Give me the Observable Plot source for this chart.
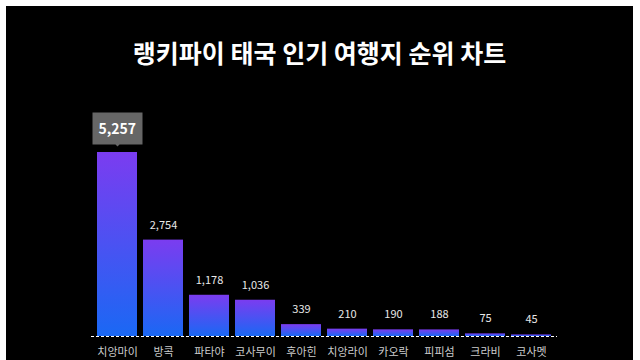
<!DOCTYPE html>
<html>
<head>
<meta charset="utf-8">
<script src="https://cdn.jsdelivr.net/npm/d3@7"></script>
<script src="https://cdn.jsdelivr.net/npm/@observablehq/plot@0.6"></script>
<style>
  html, body { margin: 0; padding: 0; background: #fff; }
  #box { position: absolute; left: 6px; top: 6px; width: 627px; height: 354px; background: #000; overflow: hidden; font-family: "Noto Sans CJK KR", "Noto Sans", sans-serif; }
  #title { margin: 31px 0 0 0; height: 30px; line-height: 30px; text-align: center; color: #fff; font-size: 25px; font-weight: 700; }
</style>
</head>
<body>
<div id="box">
  <div id="title">랭키파이 태국 인기 여행지 순위 차트</div>
  <div id="chart"></div>
</div>
<script>
const places = ["치앙마이", "방콕", "파타야", "코사무이", "후아힌", "치앙라이", "카오락", "피피섬", "크라비", "코사멧"];
const visits = [5257, 2754, 1178, 1036, 339, 210, 190, 188, 75, 45];

const data = places.map((p, i) => ({place: p, value: visits[i]}));
const fmt = d3.format(",");

const chart = Plot.plot({
  width: 627,
  height: 293,
  marginTop: 85,
  marginBottom: 24,
  marginLeft: 85,
  marginRight: 76,
  style: {background: "#000", color: "#fff", fontFamily: "'Noto Sans CJK KR', 'Noto Sans', sans-serif", overflow: "visible"},
  x: {domain: places, padding: 0.13, label: null},
  y: {domain: [0, d3.max(visits)], axis: null},
  marks: [
    Plot.barY(data, {x: "place", y: "value", fill: "url(#barGrad)"}),
    Plot.ruleY([0], {stroke: "#fff", strokeDasharray: "3,2", strokeWidth: 1}),
    Plot.text(data.slice(1), {x: "place", y: "value", text: d => fmt(d.value), dy: -15, fill: "#e8e8e8", fontSize: 11}),
    Plot.tip(data.slice(0, 1), {x: "place", y: "value", title: d => fmt(d.value), anchor: "bottom", dy: -6,
      fill: "#666", stroke: "none", pathFilter: "none", fontSize: 14, fontWeight: "bold", textPadding: 6, pointerSize: 4}),
    Plot.axisX({tickSize: 0, tickPadding: 12, fontSize: 11, fill: "#ccc", label: null})
  ]
});

const defs = d3.select(chart).insert("defs", ":first-child");
const g = defs.append("linearGradient").attr("id", "barGrad").attr("x1", 0).attr("y1", 0).attr("x2", 0).attr("y2", 1);
g.append("stop").attr("offset", "0%").attr("stop-color", "#7b3cf0");
g.append("stop").attr("offset", "100%").attr("stop-color", "#1a68f4");

document.getElementById("chart").appendChild(chart);
</script>
</body>
</html>
